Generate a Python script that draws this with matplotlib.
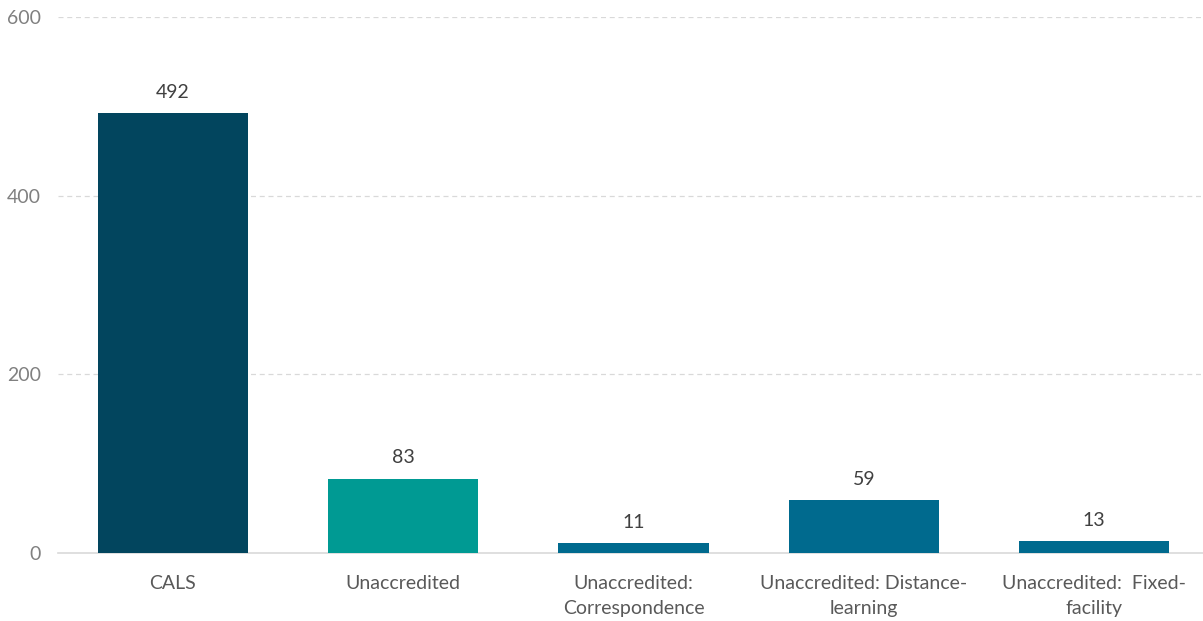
import matplotlib.pyplot as plt

# data
categories = ["CALS", "Unaccredited", "Unaccredited:\nCorrespondence",
              "Unaccredited: Distance-\nlearning", "Unaccredited:  Fixed-\nfacility"]
values = [492, 83, 11, 59, 13]
colors = ["#02455E", "#009A93", "#006A8E", "#006A8E", "#006A8E"]
yticks = [0, 200, 400, 600]

plt.rcParams["font.family"] = ["Lato", "DejaVu Sans"]

fig = plt.figure(figsize=(12.03, 6.21), dpi=100)
ax = fig.add_axes([0.048, 0.1095, 0.952, 0.8631])

x = list(range(len(values)))
bars = ax.bar(x, values, width=0.652, color=colors, zorder=3)

# verdier over søylene
for xi, v in zip(x, values):
    ax.text(xi, v + 14, str(v), ha="center", va="bottom", fontsize=14, color="#404040")

ax.set_xlim(-0.5, 4.473)
ax.set_ylim(0, 600)
ax.set_yticks(yticks)
ax.set_yticklabels([str(t) for t in yticks])
ax.set_xticks(x)
ax.set_xticklabels(categories, fontsize=14, color="#595959", linespacing=1.55, va="top")

ax.tick_params(axis="y", length=0, pad=12, labelsize=14, labelcolor="#808080")
ax.tick_params(axis="x", length=0, pad=16)

for t in yticks[1:]:
    ax.axhline(t, color="#D9D9D9", linestyle=(0, (4, 3)), linewidth=0.9, zorder=1)

for s in ["top", "right", "left"]:
    ax.spines[s].set_visible(False)
ax.spines["bottom"].set_color("#D9D9D9")
ax.spines["bottom"].set_linewidth(1.2)

fig.savefig("out.png", dpi=100)
